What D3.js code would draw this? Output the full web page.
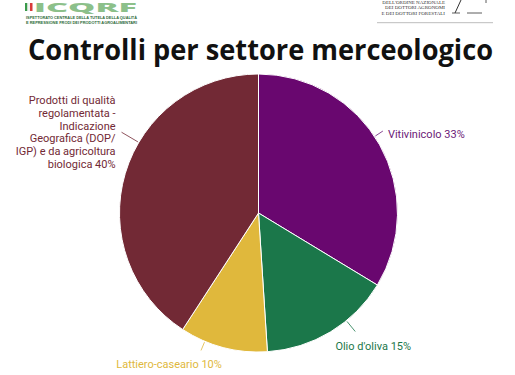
<!DOCTYPE html>
<html>
<head>
<meta charset="utf-8">
<script src="https://cdn.jsdelivr.net/npm/d3@7"></script>
<style>
  body { margin: 0; background: #fff; }
  svg { display: block; }
</style>
</head>
<body>
<div id="chart"></div>
<script>
// data
const categories = [
  'Vitivinicolo',
  "Olio d'oliva",
  'Lattiero-caseario',
  'Prodotti di qualità regolamentata - Indicazione Geografica (DOP/IGP) e da agricoltura biologica'
];
const values = [33, 15, 10, 40];
const labelLines = [
  ['Vitivinicolo 33%'],
  ["Olio d'oliva 15%"],
  ['Lattiero-caseario 10%'],
  ['Prodotti di qualità', 'regolamentata -', 'Indicazione', 'Geografica (DOP/', 'IGP) e da agricoltura', 'biologica 40%']
];

const width = 515, height = 375;
const cx = 258.5, cy = 213, radius = 139;
const colors = ['#69076f', '#1b774a', '#e0b83c', '#722935'];
const textColors = ['#6b1a78', '#1b774a', '#e0b83c', '#722935'];
// label layout: angle nudge (deg), leader length, text offset and anchor
const labelLayout = [
  { nudge: -4, len: 10, dx: 5, dy: 3, anchor: 'start' },
  { nudge: -8, len: 14, dx: 18, dy: 15, anchor: 'middle' },
  { nudge: 8, len: 10, dx: -32, dy: 14, anchor: 'middle' },
  { nudge: 14, len: 20, dx: -6, dy: 0, anchor: 'end' }
];

const svg = d3.select('#chart').append('svg')
  .attr('width', width)
  .attr('height', height);

// header logos (approximate)
const logoL = svg.append('g');
logoL.append('rect').attr('x', 25).attr('y', 3).attr('width', 2.5).attr('height', 8).attr('fill', '#3a9a4a');
logoL.append('rect').attr('x', 27.5).attr('y', 3).attr('width', 2.5).attr('height', 8).attr('fill', '#f2f2f2');
logoL.append('rect').attr('x', 30).attr('y', 3).attr('width', 2.5).attr('height', 8).attr('fill', '#d93a3a');
logoL.append('text')
  .attr('x', 34).attr('y', 11.5)
  .attr('textLength', 103).attr('lengthAdjust', 'spacingAndGlyphs')
  .style('font', '800 12px "Open Sans", sans-serif')
  .attr('fill', '#8cc08a')
  .text('ICQRF');
logoL.append('text')
  .attr('x', 26).attr('y', 19)
  .attr('textLength', 111).attr('lengthAdjust', 'spacingAndGlyphs')
  .style('font', '700 4px "Liberation Sans", sans-serif')
  .attr('fill', '#2f6b3a')
  .text('ISPETTORATO CENTRALE DELLA TUTELA DELLA QUALITÀ');
logoL.append('text')
  .attr('x', 26).attr('y', 24)
  .attr('textLength', 111).attr('lengthAdjust', 'spacingAndGlyphs')
  .style('font', '700 4px "Liberation Sans", sans-serif')
  .attr('fill', '#2f6b3a')
  .text('E REPRESSIONE FRODI DEI PRODOTTI AGROALIMENTARI');

const logoR = svg.append('g');
const rLines = ["DELL'ORDINE NAZIONALE", 'DEI DOTTORI AGRONOMI', 'E DEI DOTTORI FORESTALI'];
logoR.selectAll('text').data(rLines).enter().append('text')
  .attr('x', 445)
  .attr('y', (d, i) => 4 + i * 5.4)
  .attr('text-anchor', 'end')
  .style('font', '5px "Liberation Serif", serif')
  .attr('fill', '#333')
  .text(d => d);
logoR.append('path').attr('d', 'M455,13 L461,0').attr('stroke', '#333').attr('stroke-width', 1).attr('fill', 'none');
logoR.append('path').attr('d', 'M452,13 L460,13').attr('stroke', '#333').attr('stroke-width', 0.8);
logoR.append('path').attr('d', 'M467,13 L482,13').attr('stroke', '#333').attr('stroke-width', 0.8);
logoR.append('path').attr('d', 'M486,0 L486,3').attr('stroke', '#333').attr('stroke-width', 0.8);
logoR.append('line')
  .attr('x1', 377).attr('x2', 493).attr('y1', 22.7).attr('y2', 22.7)
  .attr('stroke', '#bdbdbd').attr('stroke-width', 1);

// title
svg.append('text')
  .attr('x', 260.5).attr('y', 60)
  .attr('text-anchor', 'middle')
  .attr('textLength', 465).attr('lengthAdjust', 'spacingAndGlyphs')
  .style('font', '700 28px "Open Sans", sans-serif')
  .attr('fill', '#111')
  .text('Controlli per settore merceologico');

// pie
const pie = d3.pie().value(d => d).sort(null);
const arc = d3.arc().innerRadius(0).outerRadius(radius);
const arcs = pie(values);

const g = svg.append('g').attr('transform', 'translate(' + cx + ',' + cy + ')');
g.selectAll('path.slice')
  .data(arcs)
  .enter()
  .append('path')
  .attr('class', 'slice')
  .attr('d', arc)
  .attr('fill', (d, i) => colors[i])
  .attr('stroke', '#fff')
  .attr('stroke-width', 1)
  .style('shape-rendering', 'geometricPrecision');

// labels with leader lines
arcs.forEach((d, i) => {
  const lay = labelLayout[i];
  const a = (d.startAngle + d.endAngle) / 2 + lay.nudge * Math.PI / 180;
  const p0 = [Math.sin(a) * (radius + 1), -Math.cos(a) * (radius + 1)];
  const p1 = [Math.sin(a) * (radius + lay.len), -Math.cos(a) * (radius + lay.len)];
  g.append('line')
    .attr('x1', p0[0]).attr('y1', p0[1])
    .attr('x2', p1[0]).attr('y2', p1[1])
    .attr('stroke', textColors[i])
    .attr('stroke-width', 0.8);
  const lines = labelLines[i];
  const lh = 12.7;
  const t = g.append('text')
    .attr('text-anchor', lay.anchor)
    .style('font', '11px Roboto, sans-serif')
    .attr('fill', textColors[i]);
  lines.forEach((ln, j) => {
    t.append('tspan')
      .attr('x', p1[0] + lay.dx)
      .attr('y', p1[1] + lay.dy + (j - (lines.length - 1) / 2) * lh)
      .attr('dy', '0.35em')
      .text(ln);
  });
});
</script>
</body>
</html>
